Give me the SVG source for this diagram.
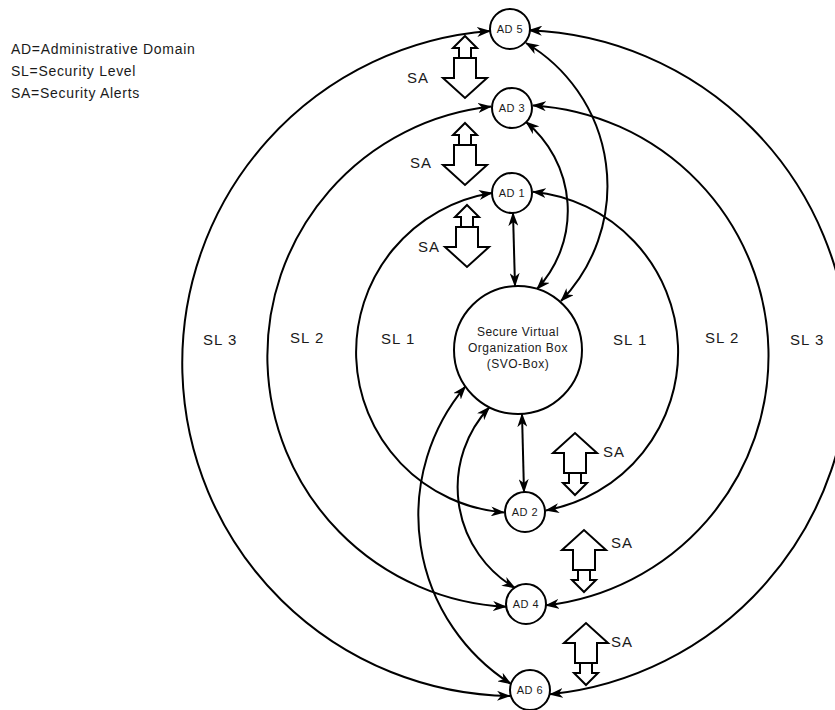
<svg xmlns="http://www.w3.org/2000/svg" xmlns:xlink="http://www.w3.org/1999/xlink" width="835" height="710" viewBox="0 0 835 710">
<style>
text{font-family:"Liberation Sans",Arial,sans-serif;fill:#1a1a1a}
.legend{font-size:14px;letter-spacing:0.7px}
.lbl{font-size:15px;letter-spacing:1px}
.ad{font-size:11px;letter-spacing:0.5px;text-anchor:middle}
.svo{font-size:12px;letter-spacing:0.5px;text-anchor:middle}
.node{fill:#fff;stroke:#000;stroke-width:2}
.conn{fill:none;stroke:#000;stroke-width:2;marker-start:url(#ah);marker-end:url(#ah)}
.sa{fill:#fff;stroke:#000;stroke-width:2;stroke-linejoin:miter}
</style>
<defs>
<marker id="ah" viewBox="0 0 14 10" refX="13" refY="5" markerWidth="14" markerHeight="10" markerUnits="userSpaceOnUse" orient="auto-start-reverse">
<path d="M0,0 L14,5 L0,10 L4,5 Z" fill="#000"/>
</marker>
<g id="sa">
<path class="sa" d="M0,0 L12,12 L6,12 L6,22 L-6,22 L-6,12 L-12,12 Z"/>
<path class="sa" d="M-11,22 L11,22 L11,42 L22,42 L0,62 L-22,42 L-11,42 Z"/>
</g>
</defs>
<rect width="835" height="710" fill="#fff"/>

<g id="legend">
<text class="legend" x="11" y="54">AD=Administrative Domain</text>
<text class="legend" x="11" y="76">SL=Security Level</text>
<text class="legend" x="11" y="98">SA=Security Alerts</text>
</g>

<g id="connectors">
<path class="conn" d="M490,31 A333,333 0 0 0 510,696"/>
<path class="conn" d="M529,30.3 A333,333 0 0 1 550,694.3"/>
<path class="conn" d="M491,106.5 A251,251 0 0 0 506,606.7"/>
<path class="conn" d="M533,105.4 A251,251 0 0 1 546,605.3"/>
<path class="conn" d="M492,193 A161,161 0 0 0 504,512.5"/>
<path class="conn" d="M533,191.8 A161,161 0 0 1 546,510.4"/>
<path class="conn" d="M513,213 L515,286"/>
<path class="conn" d="M522,414 L524,492"/>
<path class="conn" d="M526,122 A115,115 0 0 1 537,289"/>
<path class="conn" d="M526,43 A166,166 0 0 1 561,301"/>
<path class="conn" d="M489.4,407.2 A117,117 0 0 0 515,588"/>
<path class="conn" d="M465.4,386.4 A200,200 0 0 0 511,684"/>
</g>

<g id="sa-arrows">
<use xlink:href="#sa" transform="translate(465,36)"/>
<use xlink:href="#sa" transform="translate(465,123)"/>
<use xlink:href="#sa" transform="translate(467,205)"/>
<use xlink:href="#sa" transform="translate(575,495) scale(1,-1)"/>
<use xlink:href="#sa" transform="translate(584,592) scale(1,-1)"/>
<use xlink:href="#sa" transform="translate(586,685) scale(1,-1)"/>
</g>

<g id="labels">
<text class="lbl" x="407" y="83">SA</text>
<text class="lbl" x="410" y="168">SA</text>
<text class="lbl" x="418" y="252">SA</text>
<text class="lbl" x="603" y="457">SA</text>
<text class="lbl" x="611" y="548">SA</text>
<text class="lbl" x="611" y="647">SA</text>
<text class="lbl" x="203" y="345">SL 3</text>
<text class="lbl" x="290" y="343">SL 2</text>
<text class="lbl" x="381" y="344">SL 1</text>
<text class="lbl" x="613" y="345">SL 1</text>
<text class="lbl" x="705" y="343">SL 2</text>
<text class="lbl" x="790" y="345">SL 3</text>
</g>

<g id="svo">
<circle class="node" cx="518" cy="350" r="64"/>
<text class="svo" x="518" y="336">Secure Virtual</text>
<text class="svo" x="518" y="352">Organization Box</text>
<text class="svo" x="518" y="368">(SVO-Box)</text>
</g>
<g id="ad5"><circle class="node" cx="510" cy="29" r="20"/><text class="ad" x="510" y="33">AD 5</text></g>
<g id="ad3"><circle class="node" cx="512" cy="108" r="20"/><text class="ad" x="512" y="112">AD 3</text></g>
<g id="ad1"><circle class="node" cx="512" cy="193" r="20"/><text class="ad" x="512" y="197">AD 1</text></g>
<g id="ad2"><circle class="node" cx="525" cy="512" r="20"/><text class="ad" x="525" y="516">AD 2</text></g>
<g id="ad4"><circle class="node" cx="526" cy="604" r="20"/><text class="ad" x="526" y="608">AD 4</text></g>
<g id="ad6"><circle class="node" cx="530" cy="690" r="20"/><text class="ad" x="530" y="694">AD 6</text></g>
</svg>
